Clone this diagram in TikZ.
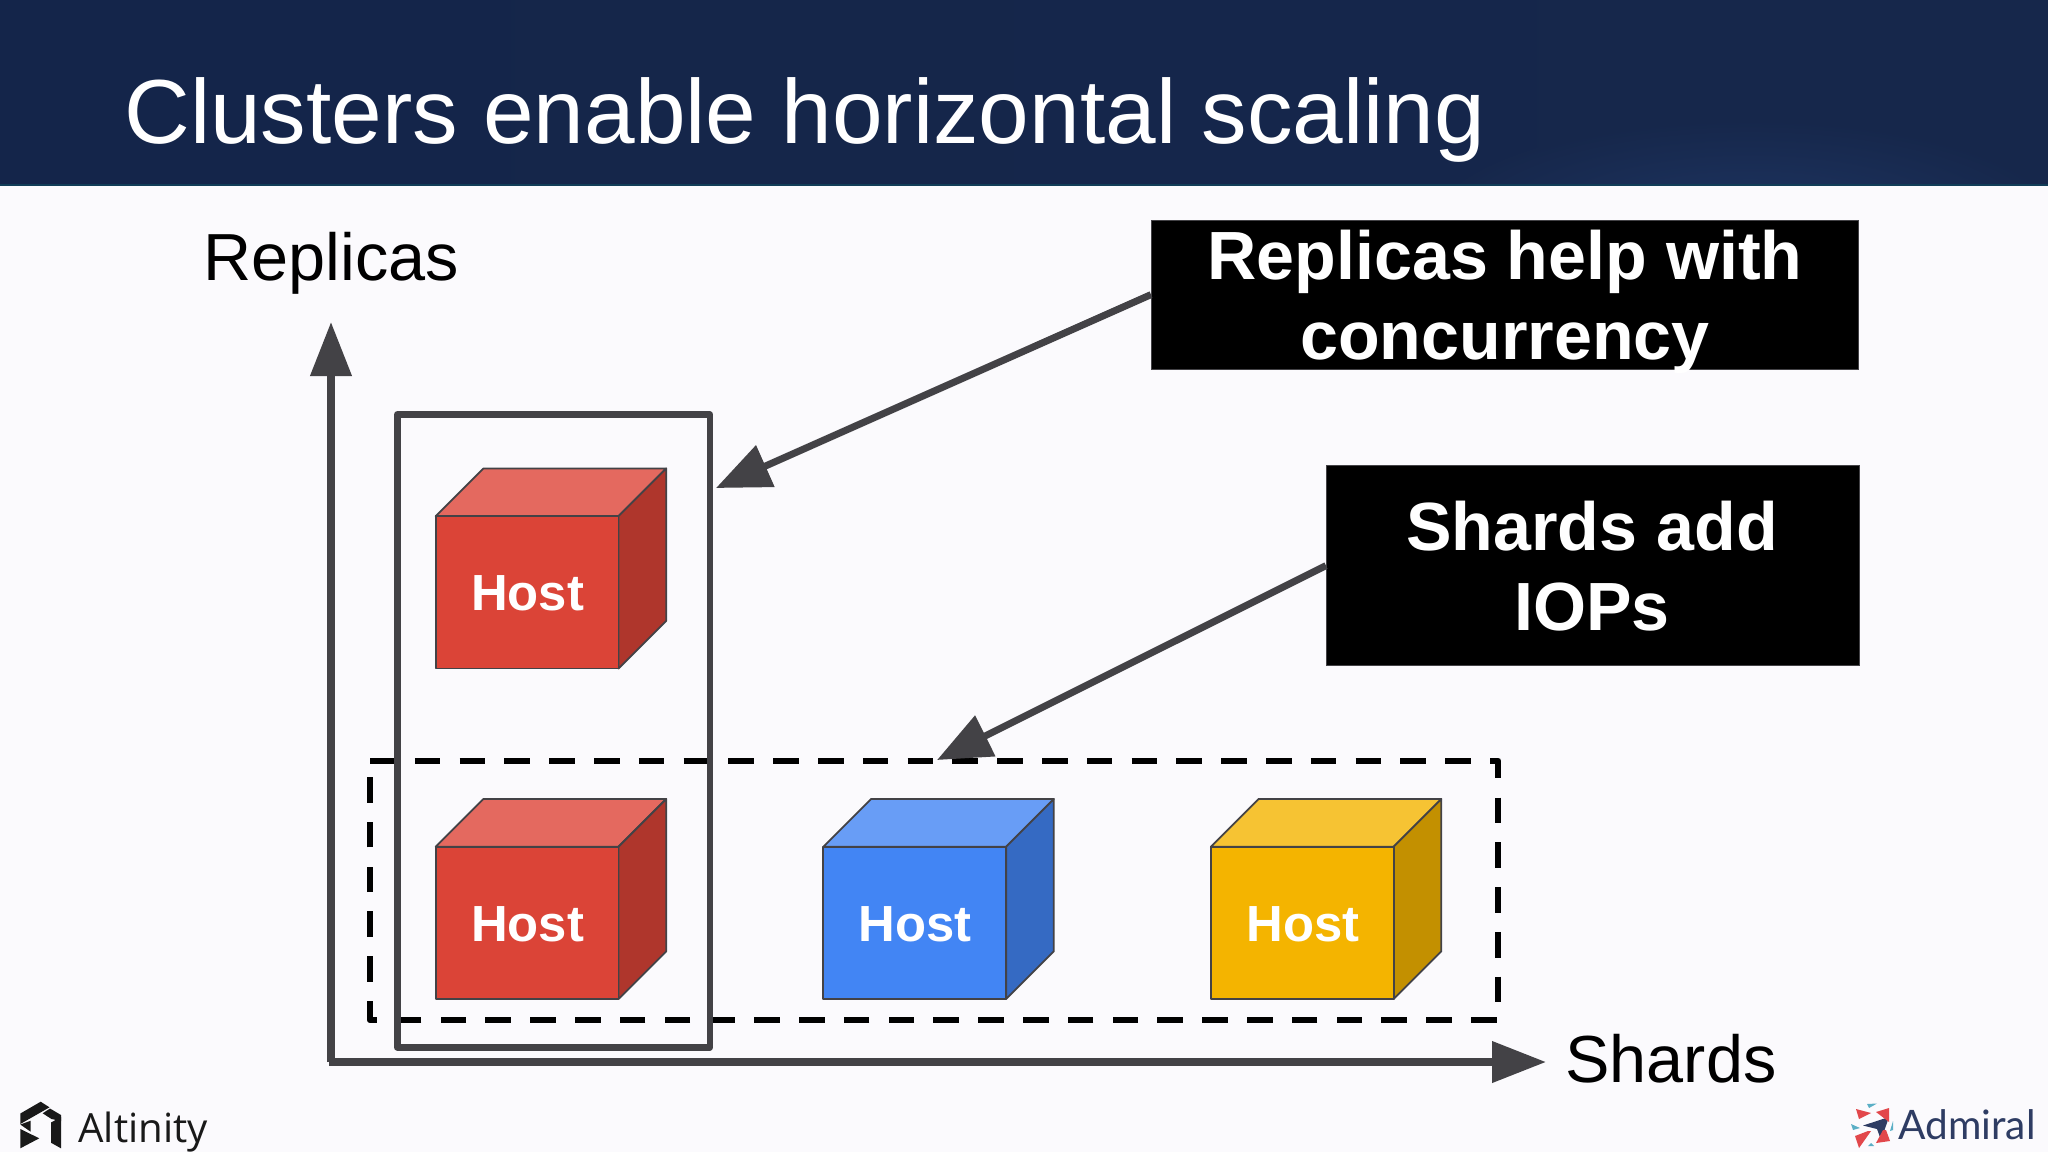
\documentclass[tikz,border=0pt]{standalone}
\usepackage{fontspec}
\setmainfont{Liberation Sans}
\newfontfamily\regfont{Open Sans}
\newfontfamily\latofont{Lato}
\usetikzlibrary{arrows.meta,calc}
\definecolor{bgc}{HTML}{FBFAFD}
\definecolor{axisc}{HTML}{434246}
\definecolor{hdA}{HTML}{14254A}
\definecolor{hdB}{HTML}{16274B}
\definecolor{hdC}{HTML}{1E3562}
\definecolor{redF}{HTML}{DB4437}
\definecolor{redT}{HTML}{E4695F}
\definecolor{redS}{HTML}{AF362C}
\definecolor{bluF}{HTML}{4285F4}
\definecolor{bluT}{HTML}{689DF6}
\definecolor{bluS}{HTML}{356AC3}
\definecolor{yelF}{HTML}{F4B400}
\definecolor{yelT}{HTML}{F6C333}
\definecolor{yelS}{HTML}{C39000}
\definecolor{admN}{HTML}{2E3C63}
\definecolor{admR}{HTML}{E2474B}
\definecolor{admT}{HTML}{5AAFC6}
\tikzset{
  axisline/.style={draw=axisc,line width=3.7pt,-{Triangle[length=27pt,width=20pt]}},
  callline/.style={draw=axisc,line width=3.5pt,-{Triangle[length=27pt,width=22pt]}},
  framebox/.style={draw=axisc,line width=3.3pt,line join=round},
  dashbox/.style={draw=black,line width=3.2pt,dash pattern=on 12.8pt off 9.6pt,line join=round},
  callout/.style={fill=black,draw=axisc,line width=.6pt,inner sep=0pt,anchor=north west},
  calltext/.style={font=\fontsize{34.1}{40}\selectfont\bfseries,text=white,align=center,inner sep=0pt},
  axislabel/.style={font=\fontsize{33.3}{40}\selectfont,text=black,inner sep=0pt,anchor=base west},
  hostlabel/.style={font=\fontsize{25.4}{29}\selectfont\bfseries,text=white,inner sep=0pt},
  cubeedge/.style={draw=axisc,line width=.9pt,line join=round},
}
% #1 name, #2 x, #3 y (front top-left), #4 front, #5 top, #6 side
\newcommand{\hostcube}[6]{%
  \path[fill=#5,cubeedge] (#2,#3) -- ++(47.7,-47.7) -- ++(182.8,0) -- ++(-47.7,47.7) -- cycle;
  \path[fill=#6,cubeedge] (#2+182.8,#3) -- ++(47.7,-47.7) -- ++(0,152.3) -- ++(-47.7,47.7) -- cycle;
  \path[fill=#4,cubeedge] (#2,#3) rectangle ++(182.8,152.3);
  \node[hostlabel] (#1) at (#2+92,#3+77.5) {Host};
}
\begin{document}
\begin{tikzpicture}[x=0.5pt,y=-0.5pt]
\useasboundingbox (0,0) rectangle (2048,1152);
\fill[bgc] (0,0) rectangle (2048,1152);
\shade[left color=hdA,right color=hdB] (0,0) rectangle (2048,185);
\begin{scope}
\clip (0,0) rectangle (2048,185);
\shade[inner color=hdC,outer color=hdB] (1750,230) ellipse (320 and 110);
\end{scope}
\fill[hdB!75!teal] (0,184.2) rectangle (2048,185.5);
\node[font=\fontsize{45.5}{56}\selectfont,text=white,inner sep=0pt,anchor=base west] (title) at (124,143) {Clusters enable horizontal scaling};

% cubes
\hostcube{hostA}{435.7}{516.2}{redF}{redT}{redS}
\hostcube{hostB}{435.7}{846.7}{redF}{redT}{redS}
\hostcube{hostC}{823.3}{846.7}{bluF}{bluT}{bluS}
\hostcube{hostD}{1210.8}{846.7}{yelF}{yelT}{yelS}

% frames
\coordinate (dashNW) at (370,760.7);
\coordinate (dashNE) at (1498,760.7);
\coordinate (dashSE) at (1498,1020);
\coordinate (dashSW) at (370,1020);
\draw[dashbox] (dashNW) -- (dashNE) -- (dashSE) -- (dashSW) -- cycle;
\coordinate (frameNW) at (397.3,414.5);
\coordinate (frameSE) at (709.8,1047.3);
\draw[framebox] (frameNW) rectangle (frameSE);

% axes
\coordinate (origin) at (331,1062);
\coordinate (yTip) at (331,322);
\coordinate (xTip) at (1546,1062);
\draw[axisline] (origin) -- (yTip);
\draw[axisline] ($(origin)+(-1.8,0)$) -- (xTip);
\node[axislabel] (replicas) at (203,280) {Replicas};
\node[axislabel] (shards) at (1565,1082.5) {Shards};

% callouts
\node[callout,minimum width=353.5pt,minimum height=74.5pt] (boxA) at (1151,219.5) {};
\node[calltext] (boxAtext) at (1505,302) {Replicas help with\\concurrency};
\node[callout,minimum width=266.5pt,minimum height=100pt] (boxB) at (1326,465) {};
\node[calltext] (boxBtext) at (1592,566) {Shards add\\IOPs};
\coordinate (tipA) at (716,488);
\coordinate (tipB) at (937,760);
\draw[callline] (boxA.west) -- (tipA);
\draw[callline] (boxB.west) -- (tipB);

% Altinity logo
\fill[black!90] (20.3,1113.5) -- (40.7,1101.7) -- (49.5,1107.3) -- (20.3,1124) -- cycle;
\fill[black!90] (42.7,1113.3) -- (50,1108.5) -- (61,1115) -- (61,1121) -- (51.5,1119) -- cycle;
\fill[black!90] (51,1122.5) -- (61,1117) -- (61,1148.3) -- (51,1142.7) -- cycle;
\fill[black!90] (20.3,1124.5) -- (30.7,1120.7) -- (30.7,1131.7) -- cycle;
\fill[black!90] (20.3,1129) -- (39.3,1138.3) -- (20.3,1148.3) -- cycle;
\node[font=\regfont\fontsize{20.1}{22}\selectfont,text=black!90,inner sep=0pt,anchor=base west] (altinity) at (78,1142) {Altinity};

% Admiral logo
\fill[admN] (1889,1117) -- (1881,1140) -- (1877,1129) -- (1863,1125.5) -- cycle;
\fill[admR] (1856,1109) -- (1871,1113) -- (1859,1119) -- cycle;
\fill[admR] (1876,1112) -- (1889,1108) -- (1889,1122) -- cycle;
\fill[admR] (1855,1136) -- (1868,1131) -- (1871,1131) -- (1859,1148) -- cycle;
\fill[admR] (1886,1130) -- (1890,1141) -- (1876,1143) -- (1883,1130) -- cycle;
\fill[admT] (1867,1104) -- (1877,1103.5) -- (1869,1108) -- cycle;
\fill[admT] (1851,1124) -- (1860,1128) -- (1853,1130) -- cycle;
\fill[admT] (1893,1121) -- (1893,1130) -- (1890,1131) -- cycle;
\fill[admT] (1871,1143) -- (1874,1146) -- (1868,1146) -- cycle;
\node[font=\latofont\fontsize{20.3}{22}\selectfont,text=admN,inner sep=0pt,anchor=base west] (admiral) at (1898,1139) {Admiral};
\end{tikzpicture}
\end{document}
